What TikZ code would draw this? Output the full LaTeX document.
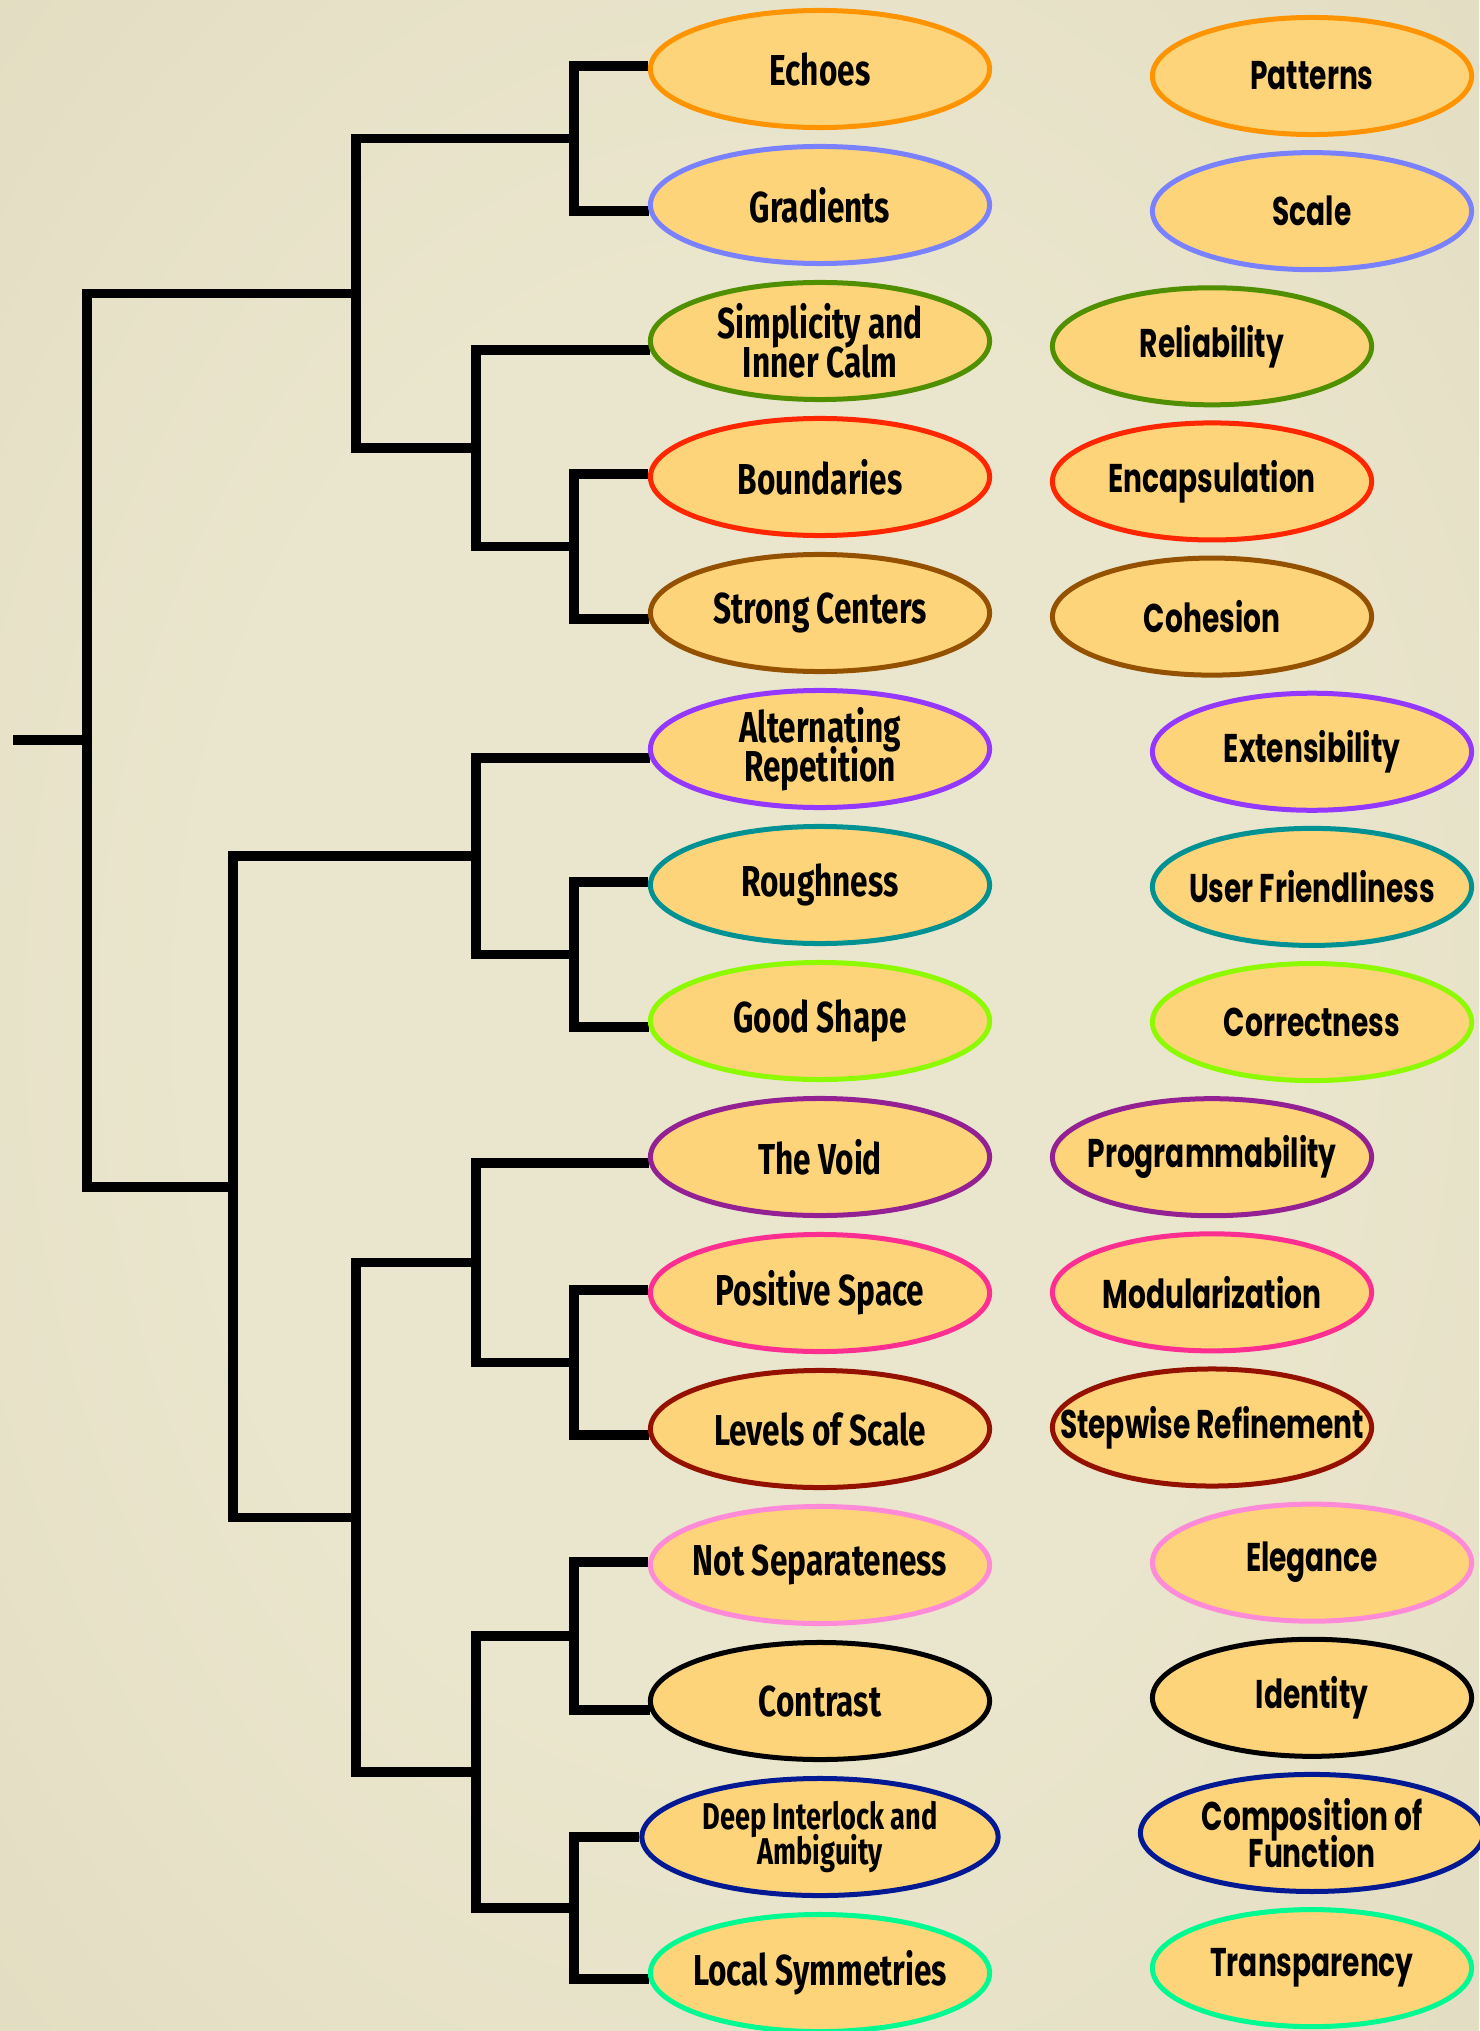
\documentclass[tikz,border=0pt]{standalone}
\usepackage{fontspec}
\usetikzlibrary{shapes.geometric,calc,backgrounds}

\newfontfamily\patternfont[FakeStretch=0.73]{Fira Sans Bold}
\newfontfamily\qualityfont[FakeStretch=0.7]{Poppins Bold}
\newcommand{\tightlines}{\lineskiplimit=-100pt\relax}

\definecolor{paperlight}{HTML}{EAE6CD}
\definecolor{paperdark}{HTML}{D5CCAD}
\definecolor{petal}{HTML}{FED47A}
\definecolor{tangerine}{HTML}{FF9300}
\definecolor{orchid}{HTML}{7A81FF}
\definecolor{clover}{HTML}{4F8F00}
\definecolor{maraschino}{HTML}{FF2600}
\definecolor{mocha}{HTML}{945200}
\definecolor{grape}{HTML}{9437FF}
\definecolor{seateal}{HTML}{009193}
\definecolor{limecrayon}{HTML}{8EFA00}
\definecolor{plum}{HTML}{942193}
\definecolor{strawberry}{HTML}{FF2F92}
\definecolor{cayenne}{HTML}{941100}
\definecolor{carnation}{HTML}{FF8AD8}
\definecolor{midnight}{HTML}{011993}
\definecolor{seafoam}{HTML}{00FA92}

\pgfdeclareradialshading{paper}{\pgfpoint{0bp}{0bp}}{color(0bp)=(paperlight); color(18bp)=(paperlight); color(70bp)=(paperdark)}

% bracket joining two children at a column
\newcommand{\joint}[4]{%
  \coordinate (#1) at ($(#2 -| #4)!0.5!(#3 -| #4)$);
  \draw[branch] (#2) -| (#1) |- (#3);}

\begin{document}
\begin{tikzpicture}[x=0.01cm,y=-0.01cm,
  branch/.style={line width=0.095cm,line join=miter},
  bubble/.style={ellipse,draw=#1,line width=0.05cm,fill=petal,
    inner xsep=-2cm,inner ysep=-1cm,minimum height=1.17cm,align=center},
  pat/.style={bubble=#1,minimum width=3.39cm,
    font={\patternfont\fontsize{12.3}{11.2}\selectfont\tightlines}},
  qual/.style={bubble=#1,minimum width=3.19cm,
    font={\qualityfont\fontsize{11.4}{10.6}\selectfont\tightlines}},
  plain/.style={},
  wide/.style={minimum width=3.56cm,
    font={\patternfont\fontsize{10.6}{10}\selectfont\tightlines}},
  broad/.style={minimum width=3.43cm}]
  \useasboundingbox (0,0) rectangle (1479,2031);

  % patterns
  \foreach \nm/\txt/\clr/\extra [count=\i from 0] in {
      echoes/Echoes/tangerine/plain,
      gradients/Gradients/orchid/plain,
      calm/Simplicity and\\Inner Calm/clover/plain,
      boundaries/Boundaries/maraschino/plain,
      centers/Strong Centers/mocha/plain,
      alternating/Alternating\\Repetition/grape/plain,
      roughness/Roughness/seateal/plain,
      shape/Good Shape/limecrayon/plain,
      void/The Void/plum/plain,
      positive/Positive Space/strawberry/plain,
      levels/Levels of Scale/cayenne/plain,
      notsep/Not Separateness/carnation/plain,
      contrast/Contrast/black/plain,
      interlock/Deep Interlock and\\Ambiguity/midnight/wide,
      symmetries/Local Symmetries/seafoam/plain}
    \node[pat=\clr,\extra] (\nm) at (820,{69+136*\i}) {\txt};

  % qualities
  \foreach \nm/\txt/\clr/\x/\extra [count=\i from 0] in {
      patterns/Patterns/tangerine/1312/plain,
      scale/Scale/orchid/1312/plain,
      reliability/Reliability/clover/1212/plain,
      encapsulation/Encapsulation/maraschino/1212/plain,
      cohesion/Cohesion/mocha/1212/plain,
      extensibility/Extensibility/grape/1312/plain,
      friendliness/User Friendliness/seateal/1312/plain,
      correctness/Correctness/limecrayon/1312/plain,
      programmability/Programmability/plum/1212/plain,
      modularization/Modularization/strawberry/1212/plain,
      stepwise/Stepwise Refinement/cayenne/1212/plain,
      elegance/Elegance/carnation/1312/plain,
      identity/Identity/black/1312/plain,
      composition/Composition of\\Function/midnight/1312/broad,
      transparency/Transparency/seafoam/1312/plain}
    \node[qual=\clr,\extra] (\nm) at (\x,{76+135.15*\i}) {\txt};

  \begin{scope}[on background layer]
    \shade[shading=paper] (0,0) rectangle (1479,2031);
    \coordinate (root) at (13,0);
    \coordinate (c1) at (87,0);
    \coordinate (c2) at (233,0);
    \coordinate (c3) at (356,0);
    \coordinate (c4) at (476,0);
    \coordinate (c5) at (574,0);

    \joint{j1}{echoes.179}{gradients.182}{c5}
    \joint{j2}{boundaries.179}{centers.182}{c5}
    \joint{j3}{calm.183}{j2}{c4}
    \joint{j4}{j1}{j3}{c3}
    \joint{j5}{roughness.179}{shape.182}{c5}
    \joint{j6}{alternating.183}{j5}{c4}
    \joint{j7}{positive.179}{levels.182}{c5}
    \joint{j8}{void.182}{j7}{c4}
    \joint{j9}{notsep.179}{contrast.183}{c5}
    \joint{j10}{interlock.west}{symmetries.182}{c5}
    \joint{j11}{j9}{j10}{c4}
    \joint{j12}{j8}{j11}{c3}
    \joint{j13}{j6}{j12}{c2}
    \joint{j14}{j4}{j13}{c1}
    \draw[branch] (root |- j14) -- (j14);
  \end{scope}
\end{tikzpicture}
\end{document}
